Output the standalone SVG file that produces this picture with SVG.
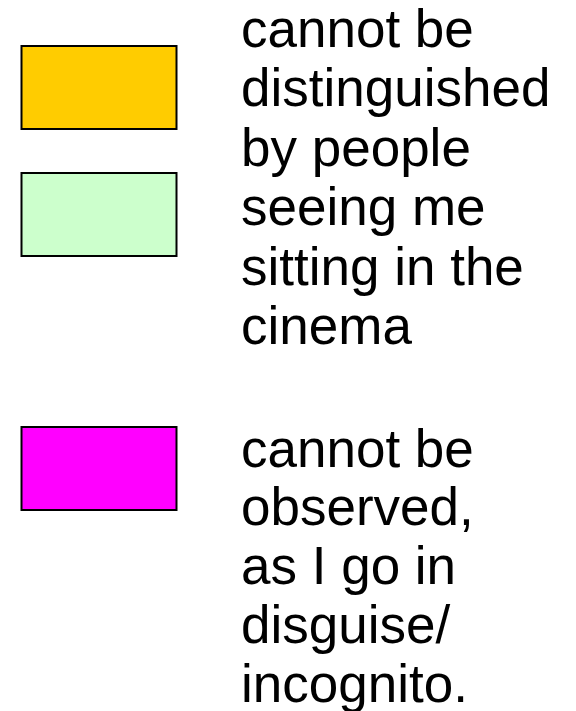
<svg xmlns="http://www.w3.org/2000/svg" width="576" height="711" viewBox="0 0 576 711">
<style>
.box{stroke:#000;stroke-width:2}
.t{font-family:"Liberation Sans",Arial,sans-serif;font-size:53px;fill:#000}
</style>
<rect width="576" height="711" fill="#fff"/>
<g id="legend-orange"><rect class="box" x="21.5" y="46" width="155" height="83" fill="#ffcc00"/></g>
<g id="legend-green"><rect class="box" x="21.5" y="173" width="155" height="83" fill="#ccffcc"/></g>
<g id="legend-magenta"><rect class="box" x="21.5" y="427" width="155" height="83" fill="#ff00ff"/></g>
<g id="label-1">
<text class="t" x="241" y="47">cannot be</text>
<text class="t" x="241" y="106.4">distinguished</text>
<text class="t" x="241" y="165.8">by people</text>
<text class="t" x="241" y="225.2">seeing me</text>
<text class="t" x="241" y="284.6">sitting in the</text>
<text class="t" x="241" y="344">cinema</text>
</g>
<g id="label-2">
<text class="t" x="241" y="466.5">cannot be</text>
<text class="t" x="241" y="525.3">observed,</text>
<text class="t" x="241" y="584.1">as I go in</text>
<text class="t" x="241" y="642.9">disguise/</text>
<text class="t" x="241" y="701.7">incognito.</text>
</g>
<g id="connectors"/>
</svg>
